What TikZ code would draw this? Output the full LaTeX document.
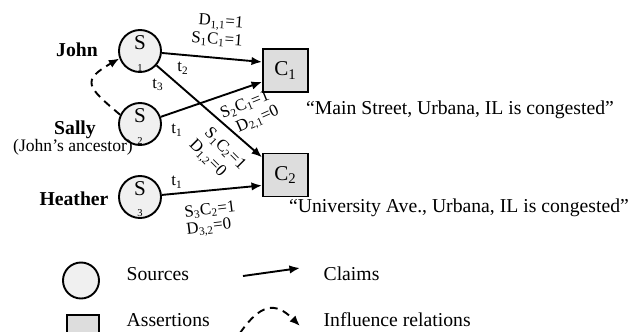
\documentclass[tikz,border=0pt]{standalone}
\usepackage{fontspec}
\setmainfont{Liberation Serif}
\usetikzlibrary{arrows.meta}
\newcommand{\srctxt}[1]{\rule{0pt}{13pt}S\\[0.5pt]{\fontsize{7.5}{7.5}\selectfont #1}}

\begin{document}
\begin{tikzpicture}[x=0.025cm, y=0.025cm, >={Latex[length=7.5pt,width=6pt]}, line width=1.35pt,
  font=\fontsize{14}{16}\selectfont,
  src/.style={draw, circle, fill=gray!12, minimum size=1.05cm, inner sep=0pt, align=center, font=\fontsize{15}{15}\selectfont},
  asr/.style={draw, fill=gray!27, minimum width=1.125cm, minimum height=1.075cm, inner sep=0pt, font=\fontsize{15}{15}\selectfont},
  lbl/.style={font=\fontsize{12}{12}\selectfont, inner sep=0pt},
  who/.style={font=\fontsize{14}{16}\selectfont\bfseries},
  claim/.style={->},
  infl/.style={->, dash pattern=on 5.5pt off 4pt}]
\useasboundingbox (0,0) rectangle (641,-331);
\node[src] (S1) at (140,-51) {\srctxt{1}};
\node[src] (S2) at (140,-124) {\srctxt{2}};
\node[src] (S3) at (140,-197) {\srctxt{3}};
\node[asr] (C1) at (285.5,-70.5) {C\textsubscript{1}};
\node[asr] (C2) at (285.5,-175) {C\textsubscript{2}};
\node[who] (john) at (77,-50) {John};
\node[who] (sally) at (75,-130) {Sally};
\node (anc) at (73,-147) {\fontsize{12.5}{14}\selectfont(John’s ancestor)};
\node[who] (heather) at (74,-199) {Heather};
\node (q1) at (460,-110) {“Main Street, Urbana, IL is congested”};
\node (q2) at (459,-208) {“University Ave., Urbana, IL is congested”};
\draw[claim] (S1) -- (C1.160);
\draw[claim] (S2) -- (C1.206);
\draw[claim] (S1) -- (C2.143);
\draw[claim] (S3) -- (C2.204);
\draw[infl] (S2.155) to[out=140, in=210, looseness=2] (S1.200);
\node[lbl, rotate=-4] (d11) at (221,-23) {D\textsubscript{1,1}=1};
\node[lbl, rotate=-4] (sc11) at (217,-40) {S\textsubscript{1}C\textsubscript{1}=1};
\node[lbl] (t2) at (183,-68) {t\textsubscript{2}};
\node[lbl] (t3) at (158,-85) {t\textsubscript{3}};
\node[lbl] (t1a) at (177,-130) {t\textsubscript{1}};
\node[lbl] (t1b) at (177,-182) {t\textsubscript{1}};
\node[lbl, rotate=22] (sc21) at (245,-105) {S\textsubscript{2}C\textsubscript{1}=1};
\node[lbl, rotate=24] (d21) at (258,-120) {D\textsubscript{2,1}=0};
\node[lbl, rotate=-45] (sc12) at (225,-149) {S\textsubscript{1}C\textsubscript{2}=1};
\node[lbl, rotate=-45] (d12) at (207,-159) {D\textsubscript{1,2}=0};
\node[lbl, rotate=7] (sc32) at (210,-210) {S\textsubscript{3}C\textsubscript{2}=1};
\node[lbl, rotate=7] (d32) at (209,-228) {D\textsubscript{3,2}=0};
\node[src, minimum size=0.9cm] (ksrc) at (81,-280.5) {};
\node[asr, minimum width=0.82cm, minimum height=0.82cm] (kasr) at (83,-331.5) {};
\node[anchor=west] (ksrct) at (121,-274) {Sources};
\node[anchor=west] (kasrt) at (121,-320) {Assertions};
\coordinate (cA) at (243,-276);
\coordinate (cB) at (300,-268);
\draw[claim] (cA) -- (cB);
\node[anchor=west] (kcl) at (318,-274) {Claims};
\coordinate (iA) at (240,-333);
\coordinate (iB) at (300,-326);
\draw[infl] (iA) to[out=55, in=135, looseness=1.5] (iB);
\node[anchor=west] (kin) at (318,-320) {Influence relations};
\end{tikzpicture}
\end{document}
